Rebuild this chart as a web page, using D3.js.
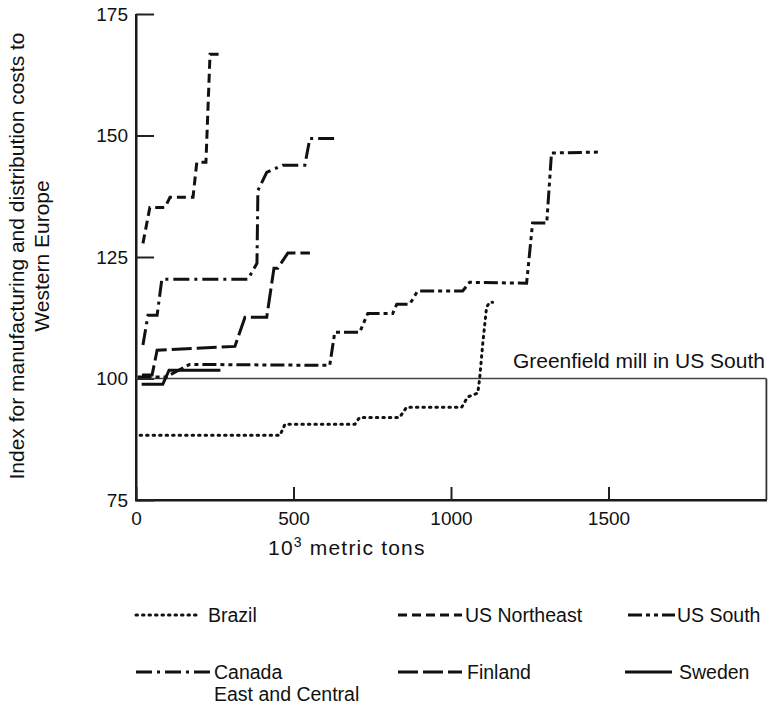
<!DOCTYPE html>
<html>
<head>
<meta charset="utf-8">
<script src="https://cdn.jsdelivr.net/npm/d3@7"></script>
<style>
  body { margin:0; background:#fff; }
  svg text { font-family: "Liberation Sans", Arial, sans-serif; fill:#111; }
</style>
</head>
<body>
<svg width="775" height="705"></svg>
<script>
// data (x = 10^3 metric tons, y = cost index)
const brazil = [[13,88.3],[457,88.3],[473,90.6],[695,90.6],[710,92.0],[837,92.0],[859,94.1],[1034,94.1],[1053,96.2],[1085,97.0],[1091,100],[1101,107.3],[1113,114.7],[1123,115.7],[1132,115.7]]
const usNortheast = [[22,127.8],[44,135.2],[92,135.2],[108,137.3],[181,137.3],[193,144.5],[222,144.5],[235,166.7],[263,166.7]]
const usSouth = [[5,100.3],[95,100.3],[170,102.9],[615,102.7],[631,109.5],[710,109.5],[736,113.4],[815,113.4],[828,115.3],[869,115.3],[894,118.0],[1037,118.0],[1059,119.8],[1240,119.6],[1259,132.0],[1304,132.0],[1319,146.4],[1478,146.6]]
const canada = [[22,106.9],[38,113.0],[67,113.0],[82,120.4],[355,120.4],[384,123.7],[387,138.7],[415,142.4],[466,143.9],[536,143.9],[552,149.4],[631,149.4]]
const finland = [[19,100.7],[51,100.7],[67,105.8],[314,106.6],[346,112.6],[415,112.6],[438,122.7],[450,122.7],[482,125.8],[552,125.8]]
const sweden = [[18,98.8],[85,98.8],[105,101.7],[268,101.7]]

const yTicks = [75,100,125,150,175]
const xTicks = [0,500,1000,1500]
const seriesNames = ["Brazil","US Northeast","US South","Canada","Finland","Sweden"]

const svg = d3.select("svg")
const x = d3.scaleLinear().domain([0,2000]).range([136,766])
const y = d3.scaleLinear().domain([75,175]).range([500,14])

//line styles per series
const styles = {
  "Brazil": "1.5,5",
  "US Northeast": "9,5",
  "US South": "14,4,4,4,4,4",
  "Canada": "16,5,3,5",
  "Finland": "20,5",
  "Sweden": null
}
const series = [brazil,usNortheast,usSouth,canada,finland,sweden]

//axis frame
svg.append("rect").attr("x",x(0)-1).attr("y",y(175)).attr("width",2.5).attr("height",y(75)-y(175)+1).attr("fill","#1a1a1a")
svg.append("rect").attr("x",x(0)-1).attr("y",y(75)-1).attr("width",x(2000)-x(0)+2).attr("height",2.5).attr("fill","#1a1a1a")
svg.append("rect").attr("x",x(2000)-0.5).attr("y",y(100)).attr("width",1.8).attr("height",y(75)-y(100)).attr("fill","#333")

//axes (ticks and labels)
const gy = svg.append("g").attr("transform","translate(136,0)")
  .call(d3.axisLeft(y).tickValues(yTicks).tickSizeInner(-18).tickSizeOuter(0).tickPadding(8))
const gx = svg.append("g").attr("transform","translate(0,500)")
  .call(d3.axisBottom(x).tickValues(xTicks).tickFormat(d3.format("d")).tickSizeInner(-13).tickSizeOuter(0).tickPadding(12))
svg.selectAll(".domain").remove()
svg.selectAll(".tick line").attr("stroke","#222").attr("stroke-width",2)
svg.selectAll(".tick text").attr("font-size",19).attr("fill","#111")
  .style("font-family",'"Liberation Sans", Arial, sans-serif')

//reference line
svg.append("line").attr("x1",x(0)).attr("x2",x(2000)).attr("y1",y(100)).attr("y2",y(100))
  .attr("stroke","#444").attr("stroke-width",1.5)
svg.append("text").attr("x",765).attr("y",y(100)-11).attr("text-anchor","end")
  .attr("font-size",21).text("Greenfield mill in US South")

//series
const line = d3.line().x(d=>x(d[0])).y(d=>y(d[1]))
svg.append("g").selectAll("path").data(series).enter().append("path")
  .attr("d", line)
  .attr("fill","none")
  .attr("stroke","#111")
  .attr("stroke-width",3)
  .attr("stroke-linecap",(d,i)=> i==0 ? "round" : "butt")
  .attr("stroke-dasharray",(d,i)=> styles[seriesNames[i]])

//axis titles
const yt = svg.append("text").attr("transform","translate(24,256) rotate(-90)")
  .attr("text-anchor","middle").attr("font-size",21)
yt.append("tspan").attr("x",0).attr("dy",0).text("Index for manufacturing and distribution costs to")
yt.append("tspan").attr("x",0).attr("dy",25).text("Western Europe")

const xt = svg.append("text").attr("x",268).attr("y",555).attr("font-size",21).attr("letter-spacing",1.2)
xt.append("tspan").text("10")
xt.append("tspan").attr("dy",-8).attr("font-size",14).text("3")
xt.append("tspan").attr("dy",8).text(" metric tons")

//legend
const legend = [
  {name:"Brazil", x1:136, x2:198, ly:615, tx:208},
  {name:"US Northeast", x1:398, x2:462, ly:615, tx:465},
  {name:"US South", x1:628, x2:675, ly:615, tx:677},
  {name:"Canada", x1:136, x2:210, ly:672, tx:214, extra:"East and Central"},
  {name:"Finland", x1:398, x2:462, ly:672, tx:467},
  {name:"Sweden", x1:625, x2:672, ly:672, tx:679}
]
const lg = svg.append("g").selectAll("g").data(legend).enter().append("g")
lg.append("line")
  .attr("x1",d=>d.x1).attr("x2",d=>d.x2).attr("y1",d=>d.ly).attr("y2",d=>d.ly)
  .attr("stroke","#111").attr("stroke-width",3)
  .attr("stroke-linecap",d=> d.name=="Brazil" ? "round" : "butt")
  .attr("stroke-dasharray",d=> styles[d.name])
lg.append("text").attr("x",d=>d.tx).attr("y",d=>d.ly+7).attr("font-size",19.5).text(d=>d.name)
lg.filter(d=>d.extra).append("text").attr("x",d=>d.tx).attr("y",d=>d.ly+29).attr("font-size",19.5).text(d=>d.extra)
</script>
</body>
</html>
